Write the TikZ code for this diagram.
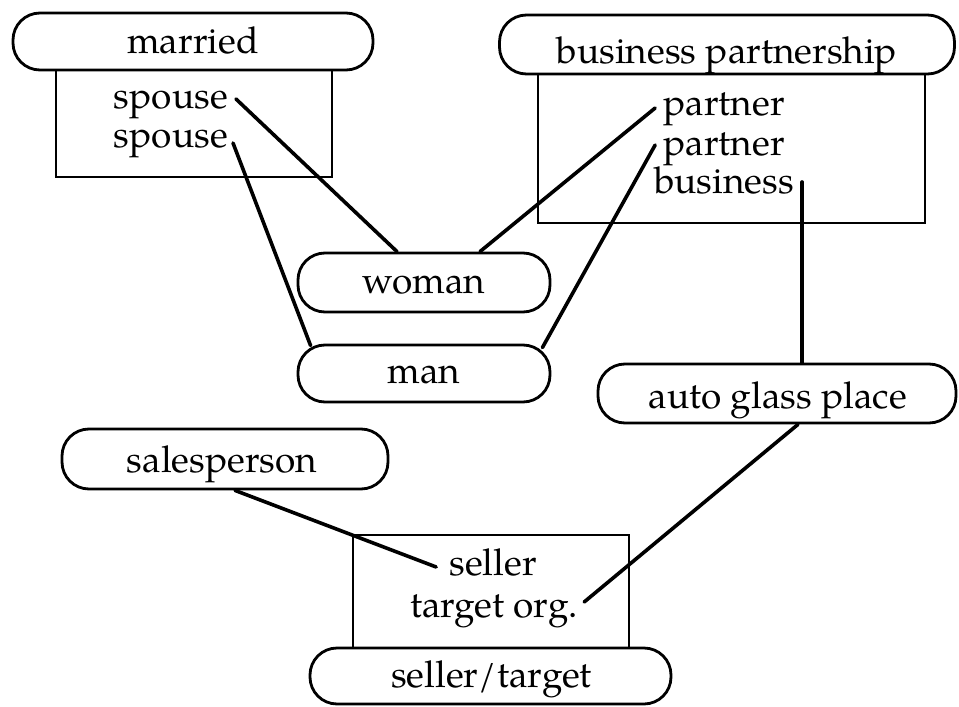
\documentclass[tikz,border=0pt]{standalone}
\usepackage{fontspec}
\setmainfont{TeX Gyre Pagella}
\usetikzlibrary{calc}

\tikzset{
  frame/.style={draw, line width=2.8pt, fill=white, inner sep=0pt},
  roundbox/.style={draw, line width=2.8pt, fill=white, rounded corners=27pt, inner sep=0pt},
  word/.style={inner sep=0pt, anchor=base},
  link/.style={line width=3.6pt, line cap=round},
}

\begin{document}
\begin{tikzpicture}[x=1pt, y=-1pt, font=\fontsize{37}{40}\selectfont]
\useasboundingbox (0,0) rectangle (959,707);

% relation frames
\node[frame, minimum width=276pt, minimum height=107pt] (mframe) at (194,123.5) {};
\node[frame, minimum width=387pt, minimum height=149pt] (bframe) at (731.5,148.5) {};
\node[frame, minimum width=276pt, minimum height=113pt] (sframe) at (491,591.5) {};

% rounded concept boxes
\node[roundbox, minimum width=360pt, minimum height=57pt] (married) at (193,41.5) {};
\node[roundbox, minimum width=455pt, minimum height=59pt] (bp) at (727,44.5) {};
\node[roundbox, minimum width=252pt, minimum height=59pt] (woman) at (424,282.5) {};
\node[roundbox, minimum width=252pt, minimum height=57pt] (man) at (424,373.5) {};
\node[roundbox, minimum width=358pt, minimum height=59pt] (ag) at (777,393.5) {};
\node[roundbox, minimum width=326pt, minimum height=60pt] (sales) at (225,459) {};
\node[roundbox, minimum width=361pt, minimum height=56pt] (st) at (490.5,676) {};

% box labels
\node[word] (marriedT) at (193,53) {married};
\node[word] (bpT) at (727,63) {business partnership};
\node[word] (womanT) at (424,293) {woman};
\node[word] (manT) at (424,383) {man};
\node[word] (agT) at (778,408) {auto glass place};
\node[word] (salesT) at (222,472) {salesperson};
\node[word] (stT) at (491.5,687) {seller/\kern1pt target};

% roles inside the frames
\node[word, anchor=base east] (sp1) at (228,108) {spouse};
\node[word, anchor=base east] (sp2) at (228,147) {spouse};
\node[word] (pa1) at (724,115) {partner};
\node[word] (pa2) at (724,155) {partner};
\node[word] (bus) at (724,193) {business};
\node[word] (sel) at (493,575) {seller};
\node[word] (tor) at (494,617) {target org.};

% role links
\draw[link] ($(sp1.base east)+(8,-9)$) -- ($(woman.north)+(-27,0)$);
\draw[link] ($(sp2.base east)+(5,-4)$) -- ($(man.north west)+(14,2)$);
\draw[link] ($(pa1.base west)+(-8,-7)$) -- ($(woman.north)+(56,0)$);
\draw[link] ($(pa2.base west)+(-8,-10)$) -- ($(man.north east)+(-9,4)$);
\draw[link] ($(bus.base east)+(8,-11)$) coordinate (bt) -- (bt |- ag.north);
\draw[link] ($(ag.south)+(21,0)$) -- ($(tor.base east)+(6,-15)$);
\draw[link] ($(sales.south)+(10,0)$) -- ($(sel.base west)+(-13,-8)$);
\end{tikzpicture}
\end{document}
